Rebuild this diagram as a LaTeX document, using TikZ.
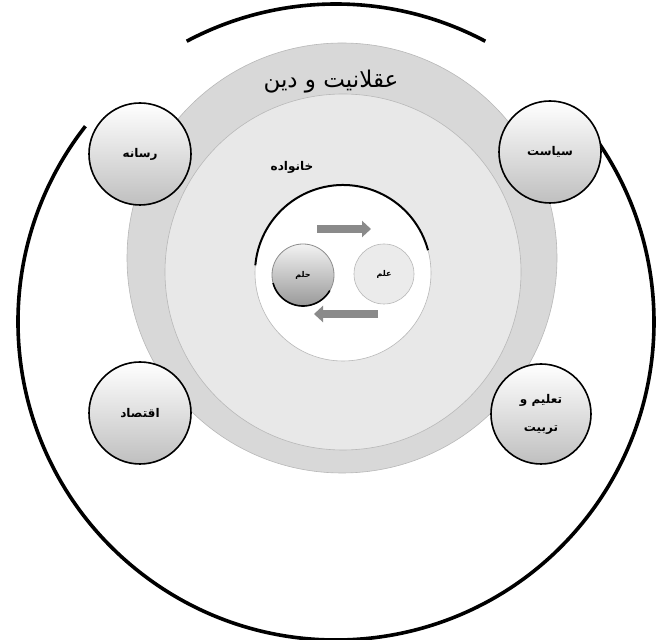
\documentclass[tikz,border=0pt]{standalone}
\usepackage{fontspec}
\newfontfamily\arabicfont[Script=Arabic]{DejaVu Sans}
\TeXXeTstate=1
\usepackage{tikz}
\usetikzlibrary{positioning, arrows.meta}
\definecolor{ringgray}{HTML}{D8D8D8}
\definecolor{discgray}{HTML}{E8E8E8}
\definecolor{edgegray}{HTML}{B8B8B8}
\definecolor{arrowgray}{HTML}{8A8A8A}

\tikzset{
  sphere/.style={circle, draw=black, line width=1.6pt, minimum size=102pt, inner sep=0pt,
    top color=white, bottom color=black!25, align=center,
    font=\arabicfont\bfseries\fontsize{12}{14}\selectfont},
  pearl/.style={circle, minimum size=62pt, inner sep=0pt,
    font=\arabicfont\bfseries\fontsize{8}{9}\selectfont},
  blockarrow/.style={line width=8pt, draw=arrowgray, -{Triangle[length=9pt, width=16pt]}},
}

\begin{document}
\begin{tikzpicture}[x=1pt, y=1pt]
  \fill[white] (0,0) rectangle (659,640);
  \useasboundingbox (0,0) rectangle (659,640);

  % outer black circle, with two gaps near the top
  \coordinate (world) at (336,318);
  \draw[line width=3.6pt] (world) ++(62:318pt) arc[start angle=62, end angle=118, radius=318pt];
  \draw[line width=3.6pt] (world) ++(142:318pt) arc[start angle=142, end angle=396, radius=318pt];

  % rings
  \node[circle, fill=ringgray, draw=edgegray, line width=0.6pt, minimum size=430pt] (reason) at (342,382) {};
  \node[circle, fill=discgray, draw=edgegray, line width=0.6pt, minimum size=356pt] (family) at (343,368) {};
  \node[circle, fill=white, draw=edgegray, line width=0.6pt, minimum size=176pt] (core) at (343,367) {};
  \draw[line width=2pt] (core.center) ++(15:88pt) arc[start angle=15, end angle=175, radius=88pt];

  \node (reasontext) at (331,558) {\arabicfont\fontsize{23}{27}\selectfont\beginR عقلانیت و دین\endR};
  \node[font=\arabicfont\bfseries\fontsize{12}{14}\selectfont] (familytext) at (292,473) {\beginR خانواده\endR};

  % inside the family
  \node[pearl, top color=black!5, bottom color=black!40, draw=black!45, line width=0.8pt] (hilm) at (303,365) {\beginR حلم\endR};
  \draw[line width=1.6pt] (hilm.center) ++(195:31pt) arc[start angle=195, end angle=330, radius=31pt];
  \node[pearl, fill=black!8, draw=edgegray, line width=0.6pt, minimum size=60pt] (ilm) at (384,366) {\beginR علم\endR};

  \coordinate (toptail) at (317,411);
  \coordinate (tophead) at (371,411);
  \coordinate (lowtail) at (378,326);
  \coordinate (lowhead) at (314,326);
  \draw[blockarrow] (toptail) -- (tophead);
  \draw[blockarrow] (lowtail) -- (lowhead);

  % four fields round the rings
  \node[sphere] (media) at (140,486) {\beginR رسانه\endR};
  \node[sphere] (politics) at (550,488) {\beginR سیاست\endR};
  \node[sphere] (economy) at (140,227) {\beginR اقتصاد\endR};
  \node[sphere, minimum size=100pt] (education) at (541,226) {\beginR تعلیم و\endR\\[14pt]\beginR تربیت\endR};
\end{tikzpicture}
\end{document}
